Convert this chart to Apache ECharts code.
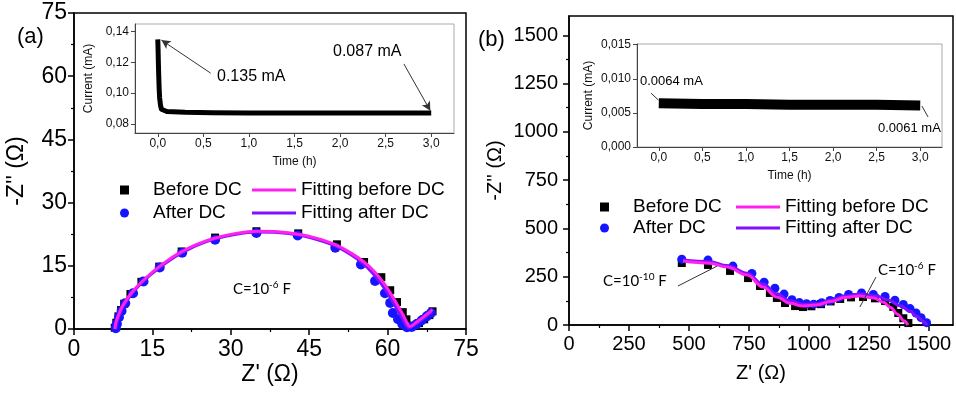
<!DOCTYPE html>
<html><head><meta charset="utf-8">
<script src="https://cdn.jsdelivr.net/npm/echarts@6/dist/echarts.min.js"></script>
<style>html,body{margin:0;padding:0;background:#fff}#c{width:956px;height:393px}</style>
</head><body><div id="c"></div>
<script>
// ---------- DATA ----------
// Panel (a): Nyquist plot  [Z', -Z'']
const beforeA = [[7.8,0.3],[8.1,1.5],[8.5,3.0],[9.0,4.5],[9.6,6.0],[10.8,8.3],[12.9,11.2],[16.3,14.8],[20.6,18.4],[27,21.7],[34.9,23.2],[42.9,22.7],[50.3,20.1],[55.5,15.9],[58.8,12.3],[60.5,9.2],[61.8,6.4],[62.9,4.0],[63.6,2.3],[64.2,0.8],[65.0,0.7],[66.0,1.4],[67.0,2.3],[68.0,3.3],[68.6,4.2]];
const afterA = [[8.0,0.2],[8.2,1.2],[8.6,2.8],[9.1,4.3],[9.8,6.1],[11.3,8.5],[13.3,11.3],[16.4,14.6],[20.7,18.1],[27,21.2],[34.9,22.8],[42.8,22.2],[50.0,19.3],[54.9,15.3],[57.6,11.4],[59.5,8.5],[60.5,6.2],[61.0,3.8],[62.0,2.3],[62.8,1.2],[63.7,0.4],[64.6,0.5],[65.5,1.1],[66.5,2.0],[67.5,3.0],[68.3,3.8]];
const fitBeforeA = [[7.8,0],[8.0,1.5],[8.4,3],[9.0,4.8],[9.8,6.5],[11,8.6],[12.4,10.5],[14,12.4],[16,14.5],[18.2,16.5],[20.5,18.3],[23.5,20.1],[27,21.6],[31,22.7],[35,23.2],[39,23.1],[43,22.5],[46.5,21.5],[50,20.0],[53,18.0],[55.5,15.9],[57.5,13.6],[59.2,11.0],[60.6,8.4],[61.8,5.9],[62.9,3.5],[63.8,1.3],[64.2,0.6],[65.5,1.6],[67,3.0],[68.6,4.6]];
const fitAfterA = [[8.0,0],[8.2,1.5],[8.6,3],[9.2,4.8],[10,6.5],[11.2,8.6],[12.6,10.5],[14.2,12.4],[16.2,14.4],[18.4,16.4],[20.7,18.1],[23.6,19.9],[27,21.4],[31,22.5],[35,23.0],[39,22.9],[43,22.3],[46.5,21.2],[50,19.7],[53,17.6],[55.3,15.5],[57.2,13.2],[58.8,10.7],[60.2,8.1],[61.4,5.6],[62.5,3.2],[63.4,1.1],[64,0.3],[65.5,1.3],[67,2.6],[68.5,4.1]];
// Panel (a) inset: current vs time
const timeA = [0,0.003,0.006,0.01,0.015,0.02,0.03,0.04,0.06,0.1,0.3,0.6,1.0,1.5,2.0,2.5,3.0];
const currentA = [0.135,0.129,0.121,0.112,0.103,0.097,0.092,0.0895,0.0885,0.088,0.0875,0.0872,0.0871,0.0871,0.087,0.087,0.087];
// Panel (b): Nyquist plot
const beforeB = [[470,321],[579,311],[671,280],[746,243],[796,202],[837,166],[866,140],[900,114],[942,98],[975,93],[1010,97],[1050,108],[1090,122],[1130,135],[1175,143],[1225,145],[1275,138],[1317,124],[1351,94],[1372,62],[1393,35],[1414,10]];
const afterB = [[470,341],[579,336],[683,305],[762,267],[813,222],[858,190],[896,160],[929,131],[960,116],[990,110],[1020,108],[1053,115],[1088,127],[1125,143],[1165,158],[1219,166],[1268,158],[1317,148],[1358,128],[1393,106],[1421,85],[1446,62],[1467,38],[1490,12]];
const fitBeforeB = [[475,331],[587,320],[658,300],[742,259],[808,197],[866,145],[921,112],[975,98],[1030,103],[1090,122],[1150,142],[1210,150],[1270,140],[1310,118],[1340,90],[1370,55],[1395,22],[1412,0]];
const fitAfterB = [[475,337],[587,328],[658,308],[742,268],[808,212],[866,162],[921,125],[975,108],[1030,110],[1090,128],[1150,150],[1215,160],[1280,150],[1330,130],[1380,100],[1420,72],[1450,45],[1475,20],[1492,0]];
// Panel (b) inset
const timeB = [0,0.5,1,1.5,2,2.5,3];
const currentB = [0.0064,0.0063,0.0063,0.0062,0.0062,0.0062,0.0061];
// Tick labels
const mainTicksA = [0,15,30,45,60,75];
const mainTicksB = [0,250,500,750,1000,1250,1500];
const insetTimeTicks = [0,0.5,1,1.5,2,2.5,3];
const insetTicksA = [0.08,0.10,0.12,0.14];
const insetTicksB = [0,0.005,0.010,0.015];

// ---------- STYLE ----------
const F = 'Liberation Sans, Arial, sans-serif';
const MAG = '#ff22ee', PUR = '#8010ff', BLUE = '#1515ff';

function mainAxis(gi, min, max, interval, ticks, name, gap, fs, margin) {
  return {
    type:'value', gridIndex:gi, min, max, interval,
    name, nameLocation:'middle', nameGap:gap, nameMoveOverlap:false,
    nameTextStyle:{fontFamily:F, fontSize:fs, color:'#000'},
    axisLine:{show:true, onZero:false, lineStyle:{color:'#000', width:1.5}},
    axisTick:{show:true, inside:false, length:6, customValues:ticks, lineStyle:{color:'#000', width:1.5}},
    minorTick:{show:true, splitNumber:2, length:3, lineStyle:{color:'#000', width:1.2}},
    axisLabel:{fontFamily:F, fontSize:fs, color:'#000', margin, customValues:ticks, formatter:v=>String(v)},
    splitLine:{show:false}, minorSplitLine:{show:false}
  };
}
function insetAxis(gi, min, max, ticks, dec, name, gap, isY) {
  return {
    type:'value', gridIndex:gi, min, max,
    name, nameLocation:'middle', nameGap:gap, nameMoveOverlap:false,
    nameTextStyle:{fontFamily:F, fontSize:12, color:'#111'},
    axisLine:{show:true, onZero:false, lineStyle:{color:'#444', width:1}},
    axisTick:{show:true, length:4, customValues:ticks, lineStyle:{color:'#444'}},
    axisLabel:{fontFamily:F, fontSize:12, color:'#111', margin:isY?6:5, customValues:ticks,
      formatter:v=>v.toFixed(dec).replace('.',',')},
    splitLine:{show:false}
  };
}
const zip = (xs, ys) => xs.map((x,i)=>[x, ys[i]]);

function cText(x, y, exp) {
  return {type:'text', x, y, z:50, style:{
    text:'{n|C=10}{s|' + exp + '}{n| F}', textVerticalAlign:'middle',
    rich:{n:{fontFamily:'Lato, Open Sans, sans-serif', fontSize:15, lineHeight:18, color:'#000'},
          s:{fontFamily:'Lato, Open Sans, sans-serif', fontSize:10, lineHeight:18, verticalAlign:'top', color:'#000'}}
  }};
}
function plainText(x, y, t, fs, font) {
  return {type:'text', x, y, z:50, style:{text:t, fontFamily:font||F, fontSize:fs, fill:'#000', textVerticalAlign:'middle'}};
}
const annLine = (pairs, arrow) => ({
  silent:true, symbol:['none', arrow?'arrow':'none'], symbolSize:[7,9], animation:false,
  label:{show:false}, lineStyle:{color:'#333', width:1, type:'solid'},
  data: pairs.map(p=>[{coord:p[0]},{coord:p[1]}])
});
const scatterStyle = c => ({color:c, opacity:1, borderWidth:0});

const chart = echarts.init(document.getElementById('c'), null, {renderer:'canvas'});
const option = {
  animation:false, backgroundColor:'#fff',
  grid:[
    {left:74, top:13, width:392, height:316, show:true, borderColor:'#000', borderWidth:1.5, containLabel:false},
    {left:135, top:24, width:319, height:109, show:true, borderColor:'#aaa', borderWidth:1, backgroundColor:'#fff', containLabel:false},
    {left:569, top:16, width:384, height:309, show:true, borderColor:'#000', borderWidth:1.5, containLabel:false},
    {left:637, top:44, width:305, height:103, show:true, borderColor:'#aaa', borderWidth:1, backgroundColor:'#fff', containLabel:false}
  ],
  xAxis:[
    mainAxis(0, 0, 75, 15, mainTicksA, "Z' (Ω)", 34, 23, 9),
    insetAxis(1, -0.25, 3.25, insetTimeTicks, 1, 'Time (h)', 23, false),
    mainAxis(2, 0, 1600, 250, mainTicksB, "Z' (Ω)", 38, 20, 9),
    insetAxis(3, -0.25, 3.25, insetTimeTicks, 1, 'Time (h)', 23, false)
  ],
  yAxis:[
    mainAxis(0, 0, 75, 15, mainTicksA, "-Z'' (Ω)", 46, 23, 7),
    insetAxis(1, 0.074, 0.145, insetTicksA, 2, 'Current (mA)', 40, true),
    mainAxis(2, 0, 1600, 250, mainTicksB, "-Z'' (Ω)", 64, 20, 11),
    insetAxis(3, 0, 0.0151, insetTicksB, 3, 'Current (mA)', 42, true)
  ],
  legend:[
    {left:120, top:180.5, orient:'vertical', padding:0, itemGap:4, itemWidth:9, itemHeight:9, selectedMode:false,
     data:[{name:'Before DC', icon:'rect'},{name:'After DC', icon:'circle'}],
     itemStyle:{opacity:1},
     textStyle:{fontFamily:F, fontSize:19, lineHeight:19, color:'#000', padding:[0,0,0,19]}},
    {left:252, top:180.5, orient:'vertical', padding:0, itemGap:4, itemWidth:44, itemHeight:3, selectedMode:false,
     data:[{name:'Fitting before DC', icon:'rect'},{name:'Fitting after DC', icon:'rect'}],
     textStyle:{fontFamily:F, fontSize:19, lineHeight:19, color:'#000'}},
    {left:600, top:197.5, orient:'vertical', padding:0, itemGap:2, itemWidth:9, itemHeight:9, selectedMode:false,
     data:[{name:'Before DC', icon:'rect'},{name:'After DC', icon:'circle'}],
     itemStyle:{opacity:1},
     textStyle:{fontFamily:F, fontSize:19, lineHeight:19, color:'#000', padding:[0,0,0,19]}},
    {left:736, top:197.5, orient:'vertical', padding:0, itemGap:2, itemWidth:44, itemHeight:3, selectedMode:false,
     data:[{name:'Fitting before DC', icon:'rect'},{name:'Fitting after DC', icon:'rect'}],
     textStyle:{fontFamily:F, fontSize:19, lineHeight:19, color:'#000'}}
  ],
  series:[
    // panel a
    {name:'Before DC', type:'scatter', xAxisIndex:0, yAxisIndex:0, symbol:'rect', symbolSize:8, itemStyle:scatterStyle('#000'), data:beforeA},
    {name:'After DC', type:'scatter', xAxisIndex:0, yAxisIndex:0, symbol:'circle', symbolSize:10, itemStyle:scatterStyle(BLUE), data:afterA},
    {name:'Fitting after DC', type:'line', xAxisIndex:0, yAxisIndex:0, smooth:0.3, showSymbol:false, symbol:'none',
     lineStyle:{color:PUR, width:3}, itemStyle:{color:PUR}, data:fitAfterA},
    {name:'Fitting before DC', type:'line', xAxisIndex:0, yAxisIndex:0, smooth:0.3, showSymbol:false, symbol:'none',
     lineStyle:{color:MAG, width:3}, itemStyle:{color:MAG}, data:fitBeforeA},
    // inset a
    {name:'Current a', type:'line', xAxisIndex:1, yAxisIndex:1, showSymbol:false, symbol:'none',
     lineStyle:{color:'#000', width:5, cap:'butt', join:'round'}, itemStyle:{color:'#000'}, data:zip(timeA, currentA),
     markLine:annLine([[[0.58,0.113],[0.04,0.1345]],[[2.70,0.119],[2.99,0.0885]]], true)},
    // panel b
    {name:'Before DC', type:'scatter', xAxisIndex:2, yAxisIndex:2, symbol:'rect', symbolSize:8, itemStyle:scatterStyle('#000'), data:beforeB},
    {name:'After DC', type:'scatter', xAxisIndex:2, yAxisIndex:2, symbol:'circle', symbolSize:9, itemStyle:scatterStyle(BLUE), data:afterB,
     markLine:annLine([[[454,202],[617,305]],[[1212,93],[1279,248]]], false)},
    {name:'Fitting after DC', type:'line', xAxisIndex:2, yAxisIndex:2, smooth:0.4, smoothMonotone:'x', showSymbol:false, symbol:'none',
     lineStyle:{color:PUR, width:3}, itemStyle:{color:PUR}, data:fitAfterB},
    {name:'Fitting before DC', type:'line', xAxisIndex:2, yAxisIndex:2, smooth:0.4, smoothMonotone:'x', showSymbol:false, symbol:'none',
     lineStyle:{color:MAG, width:3}, itemStyle:{color:MAG}, data:fitBeforeB},
    // inset b
    {name:'Current b', type:'line', xAxisIndex:3, yAxisIndex:3, showSymbol:false, symbol:'none',
     lineStyle:{color:'#000', width:10, cap:'butt'}, itemStyle:{color:'#000'}, data:zip(timeB, currentB),
     markLine:annLine([[[-0.09,0.0079],[-0.005,0.0069]],[[3.02,0.0060],[3.09,0.0044]]], false)}
  ],
  graphic:[
    plainText(17, 37, '(a)', 22),
    plainText(478, 40, '(b)', 22),
    plainText(217, 77, '0.135 mA', 16),
    plainText(333, 52, '0.087 mA', 16),
    plainText(640, 81, '0.0064 mA', 13),
    plainText(878, 128, '0.0061 mA', 13),
    cText(233, 289, '-6'),
    cText(603, 281, '-10'),
    cText(878, 270, '-6')
  ]
};
chart.setOption(option);
</script></body></html>
